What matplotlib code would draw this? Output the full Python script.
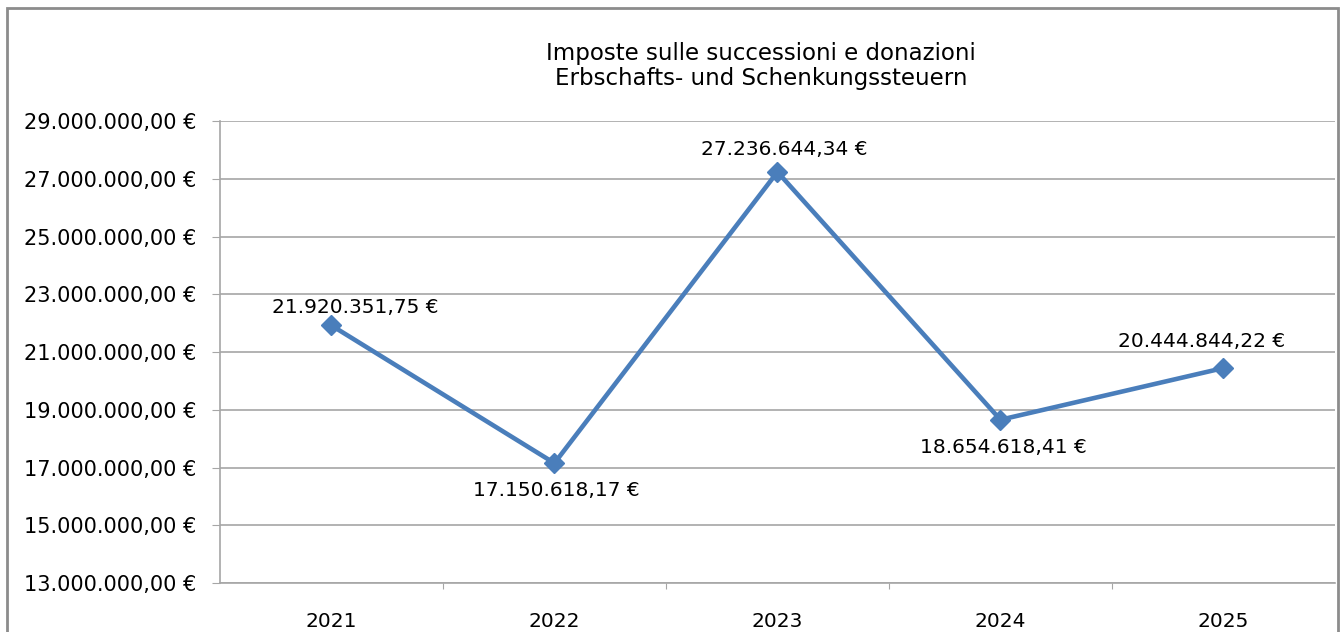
import matplotlib
matplotlib.use("Agg")
import matplotlib.pyplot as plt
from matplotlib.patches import Rectangle
from matplotlib.ticker import FuncFormatter, FixedLocator

years = ["2021", "2022", "2023", "2024", "2025"]
values = [21920351.75, 17150618.17, 27236644.34, 18654618.41, 20444844.22]
yticks = [13e6, 15e6, 17e6, 19e6, 21e6, 23e6, 25e6, 27e6, 29e6]

# label offsets in points (x, y), matching where Excel placed them
label_offsets = [(17, 13), (1, -20), (5, 16), (2, -20), (-16, 19)]

blue = "#4a7ebb"
grey = "#a6a6a6"


def euro(v, pos=None):
    s = f"{v:,.2f}"
    s = s.replace(",", "X").replace(".", ",").replace("X", ".")
    return s + " €"


plt.rcParams['font.family'] = ['DejaVu Sans']

fig = plt.figure(figsize=(13.41, 6.32), dpi=100)
ax = fig.add_axes([0.164, 0.0775, 0.8315, 0.731])

x = list(range(len(years)))
ax.plot(x, values, color=blue, lw=3.3, marker="D", ms=10.5, mfc=blue, mec=blue, zorder=3)

for xi, v, off in zip(x, values, label_offsets):
    ax.annotate(euro(v), (xi, v), xytext=off, textcoords="offset points",
                ha="center", va="center", fontsize=14.5, color="black")

ax.set_xlim(-0.5, len(years) - 0.5)
ax.set_ylim(13e6, 29e6)
ax.set_yticks(yticks)
ax.yaxis.set_major_formatter(FuncFormatter(euro))
ax.grid(axis="y", color=grey, lw=1.2)
ax.set_axisbelow(True)

# ticks between categories, labels at centres
ax.xaxis.set_major_locator(FixedLocator([i + 0.5 for i in range(len(years) - 1)]))
ax.xaxis.set_minor_locator(FixedLocator(x))
ax.set_xticklabels([], minor=False)
ax.set_xticklabels(years, minor=True)
ax.tick_params(axis="x", which="major", length=4, color=grey)
ax.tick_params(axis="x", which="minor", length=0, pad=21, labelsize=14.5)
ax.tick_params(axis="y", length=6, color=grey, pad=11, labelsize=15)

for s in ["top", "right"]:
    ax.spines[s].set_visible(False)
for s in ["left", "bottom"]:
    ax.spines[s].set_color(grey)
    ax.spines[s].set_linewidth(1.2)

fig.text(0.5675, 0.8956, "Imposte sulle successioni e donazioni\nErbschafts- und Schenkungssteuern",
         ha="center", va="center", fontsize=16.5, linespacing=1.1)

fig.patches.append(Rectangle((7 / 1341, -0.05), 1331 / 1341, 1 - 8 / 632 + 0.05,
                             transform=fig.transFigure, fill=False,
                             edgecolor="#8c8c8c", lw=2))

fig.savefig("out.png", dpi=100)
